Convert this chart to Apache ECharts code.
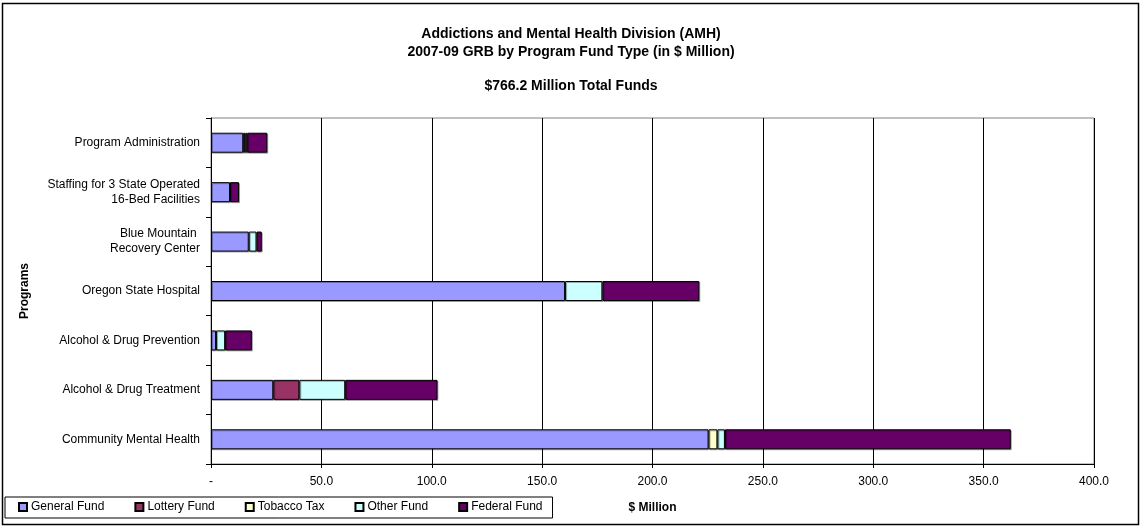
<!DOCTYPE html>
<html><head><meta charset="utf-8">
<script src="https://cdn.jsdelivr.net/npm/echarts@6/dist/echarts.min.js"></script>
<style>html,body{margin:0;padding:0;background:#fff}#c{width:1142px;height:529px}</style>
</head><body><div id="c"></div>
<script>
const categories = ["Program Administration", "Staffing for 3 State Operated\n16-Bed Facilities", "Blue Mountain \nRecovery Center", "Oregon State Hospital", "Alcohol & Drug Prevention", "Alcohol & Drug Treatment", "Community Mental Health"];
const generalFund = [14.6, 8.6, 17.1, 160.4, 2.3, 28.2, 225.4];
const lotteryFund = [0.9, null, null, null, null, 11.8, null];
const tobaccoTax = [null, null, null, null, null, null, 4.0];
const otherFund = [0.9, null, 3.5, 16.9, 4.1, 20.8, 3.4];
const federalFund = [9.1, 4.1, 2.4, 43.9, 12.1, 41.8, 129.5];
const xTickLabels = ["-", "50.0", "100.0", "150.0", "200.0", "250.0", "300.0", "350.0", "400.0"];

const FONT = "'Liberation Sans', Arial, sans-serif";
const seriesDefs = [
  ["General Fund", generalFund, "#9999FF"],
  ["Lottery Fund", lotteryFund, "#993366"],
  ["Tobacco Tax", tobaccoTax, "#FFFFCC"],
  ["Other Fund", otherFund, "#CCFFFF"],
  ["Federal Fund", federalFund, "#660066"]
];
const chart = echarts.init(document.getElementById('c'), null, {renderer: 'canvas'});
chart.setOption({
  animation: false,
  textStyle: {fontFamily: FONT},
  title: [
    {text: "Addictions and Mental Health Division (AMH)\n2007-09 GRB by Program Fund Type (in $ Million)", left: 'center', top: 20,
     textStyle: {fontFamily: FONT, fontSize: 14, fontWeight: 'bold', color: '#000', lineHeight: 18}},
    {text: "$766.2 Million Total Funds", left: 'center', top: 74,
     textStyle: {fontFamily: FONT, fontSize: 14, fontWeight: 'bold', color: '#000'}}
  ],
  legend: {
    left: 5, top: 497, orient: 'horizontal',
    padding: [4, 10, 5, 13], itemGap: 30, itemWidth: 8, itemHeight: 8, icon: 'rect',
    borderColor: '#000', borderWidth: 1,
    textStyle: {fontFamily: FONT, fontSize: 12, color: '#000', padding: [0, 0, 0, -1]},
    data: seriesDefs.map(d => d[0])
  },
  grid: {left: 211, right: 48, top: 118, bottom: 65, show: true, borderColor: '#808080', borderWidth: 1},
  xAxis: {
    type: 'value', min: 0, max: 400, interval: 50,
    name: '$ Million', nameLocation: 'middle', nameGap: 38,
    nameTextStyle: {fontFamily: FONT, fontSize: 12, fontWeight: 'bold', color: '#000'},
    axisLine: {show: true, lineStyle: {color: '#000'}},
    axisTick: {show: true, length: 4, lineStyle: {color: '#000'}},
    axisLabel: {fontFamily: FONT, fontSize: 12, color: '#000', margin: 12,
      formatter: (v) => xTickLabels[Math.round(v / 50)]},
    splitLine: {show: true, lineStyle: {color: '#000', width: 1}}
  },
  yAxis: {
    type: 'category', data: categories, inverse: true,
    name: 'Programs', nameLocation: 'middle', nameGap: 180, nameRotate: 90,
    nameTextStyle: {fontFamily: FONT, fontSize: 12, fontWeight: 'bold', color: '#000'},
    axisLine: {show: true, lineStyle: {color: '#000'}},
    axisTick: {show: true, length: 5, lineStyle: {color: '#000'}},
    axisLabel: {fontFamily: FONT, fontSize: 12, color: '#000', margin: 11, lineHeight: 15, align: 'right'}
  },
  series: seriesDefs.map(d => ({
    name: d[0], type: 'bar', stack: 'total', data: d[1], barWidth: 20,
    itemStyle: {color: d[2], borderColor: '#000', borderWidth: 1,
      shadowColor: 'rgba(0,0,0,0.3)', shadowOffsetX: 1, shadowOffsetY: 1, shadowBlur: 0}
  })),
  graphic: [
    {type: 'rect', shape: {x: 2.5, y: 3.5, width: 1136, height: 521}, silent: true, z: 100,
     style: {fill: 'none', stroke: '#000', lineWidth: 1.5}}
  ]
});
</script>
</body></html>
